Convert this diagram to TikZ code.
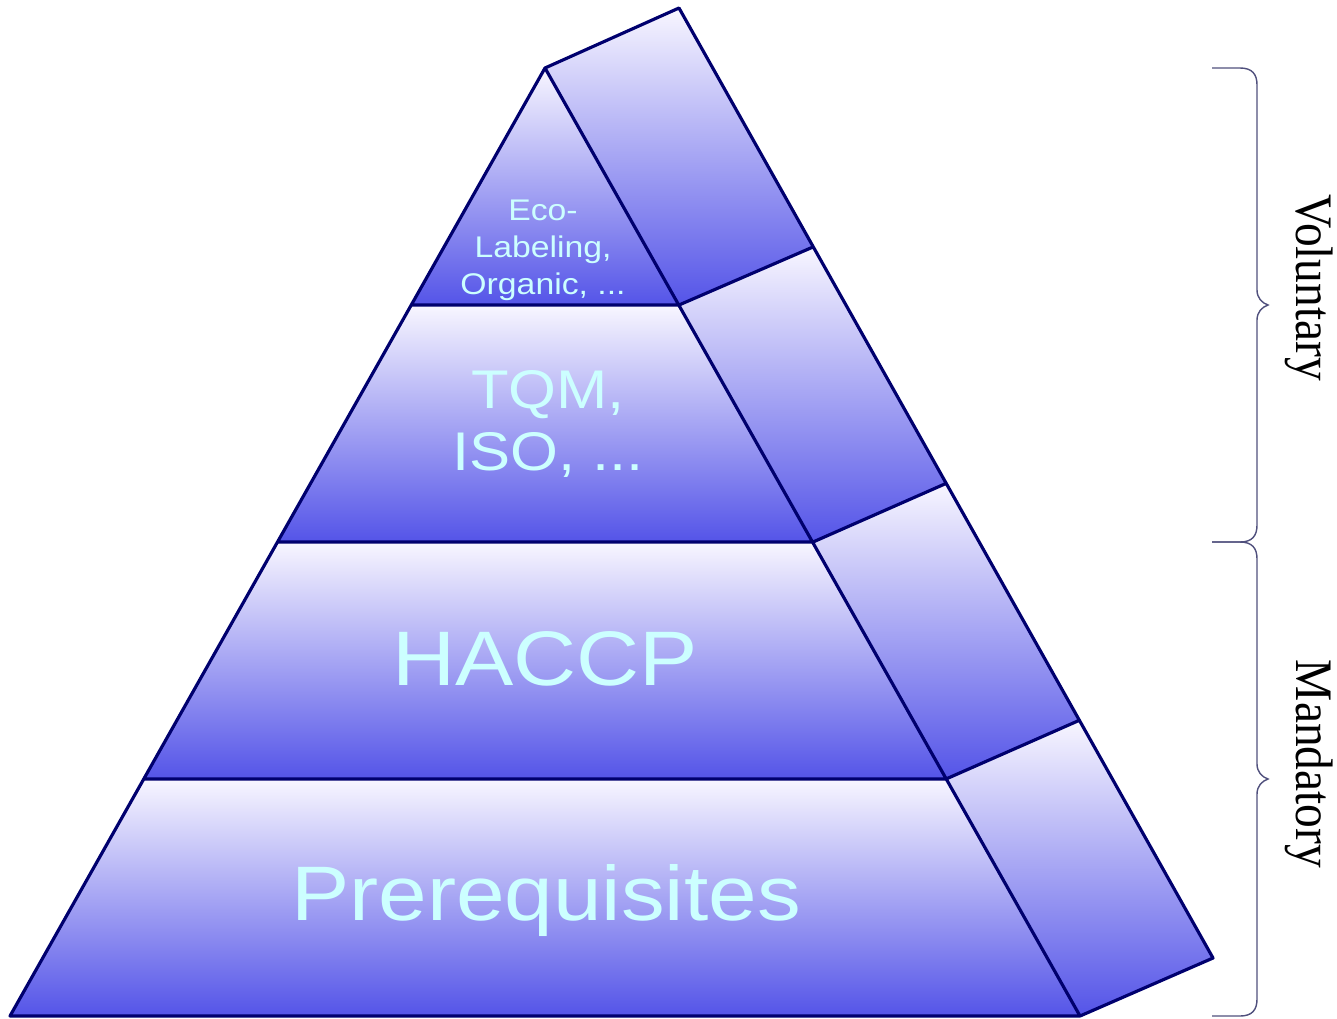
\documentclass[tikz,border=0pt]{standalone}
\usepackage{fontspec}
\setmainfont{Liberation Serif}
\newfontfamily\arialfont{Liberation Sans}
\definecolor{tiertop}{RGB}{248,246,255}
\definecolor{tierbottom}{RGB}{84,84,232}
\definecolor{edgeblue}{RGB}{0,0,110}
\definecolor{labelcyan}{RGB}{204,255,255}
\definecolor{bracegray}{RGB}{80,80,125}
\tikzset{
  tier/.style={top color=tiertop, bottom color=tierbottom},
  edge/.style={draw=edgeblue, line width=1.8pt, line join=round},
  tiertext/.style={text=labelcyan, align=center, inner sep=0pt, xscale=1.13},
  sidetext/.style={font=\fontsize{30}{30}\selectfont, inner sep=0pt, rotate=-90, xscale=0.9},
  curly/.style={draw=bracegray, line width=0.8pt}
}

\begin{document}
\begin{tikzpicture}[x=0.02cm, y=-0.02cm]
        \useasboundingbox (0,0) rectangle (1337,1018);

        % front face
        \coordinate (A) at (545,68);
        \coordinate (L1) at (411,305);
        \coordinate (R1) at (679,305);
        \coordinate (L2) at (278,542);
        \coordinate (R2) at (813,542);
        \coordinate (L3) at (144,779);
        \coordinate (R3) at (946,779);
        \coordinate (L4) at (10,1016);
        \coordinate (R4) at (1080,1016);
        % back edge
        \coordinate (B0) at (679,8);
        \coordinate (B1) at (813,247);
        \coordinate (B2) at (947,483);
        \coordinate (B3) at (1080,720);
        \coordinate (B4) at (1213,958);

        \shade[tier] (A) -- (R1) -- (L1) -- cycle;
        \shade[tier] (L1) -- (R1) -- (R2) -- (L2) -- cycle;
        \shade[tier] (L2) -- (R2) -- (R3) -- (L3) -- cycle;
        \shade[tier] (L3) -- (R3) -- (R4) -- (L4) -- cycle;

        \shade[tier] (A) -- (B0) -- (B1) -- (R1) -- cycle;
        \shade[tier] (R1) -- (B1) -- (B2) -- (R2) -- cycle;
        \shade[tier] (R2) -- (B2) -- (B3) -- (R3) -- cycle;
        \shade[tier] (R3) -- (B3) -- (B4) -- (R4) -- cycle;

        \draw[edge] (A) -- (L4) -- (R4) -- cycle
            (L1) -- (R1)
            (L2) -- (R2)
            (L3) -- (R3);
        \draw[edge] (A) -- (B0) -- (B4) -- (R4)
            (R1) -- (B1)
            (R2) -- (B2)
            (R3) -- (B3);

        \node[tiertext, font=\arialfont\fontsize{17}{21}\selectfont] (eco) at (543,250) {Eco-\\Labeling,\\Organic, ...};
        \node[tiertext, font=\arialfont\fontsize{31}{35}\selectfont] (tqm) at (548,424) {TQM,\\ISO, ...};
        \node[tiertext, font=\arialfont\fontsize{44}{44}\selectfont, anchor=base] (haccp) at (545,685) {HACCP};
        \node[tiertext, font=\arialfont\fontsize{44}{44}\selectfont, anchor=base] (prereq) at (546,920) {Prerequisites};

        % braces
        \draw[curly] (1212,68) -- (1240,68) .. controls (1252,68) and (1257,74) .. (1257,85)
            -- (1257,290) .. controls (1257,298) and (1262,303) .. (1268,305)
            .. controls (1262,307) and (1257,312) .. (1257,320)
            -- (1257,525) .. controls (1257,536) and (1252,542) .. (1240,542) -- (1212,542);
        \draw[curly] (1212,542) -- (1240,542) .. controls (1252,542) and (1257,548) .. (1257,559)
            -- (1257,764) .. controls (1257,772) and (1262,777) .. (1268,779)
            .. controls (1262,781) and (1257,786) .. (1257,794)
            -- (1257,999) .. controls (1257,1010) and (1252,1016) .. (1240,1016) -- (1212,1016);

        \node[sidetext] (voluntary) at (1309,288) {Voluntary};
        \node[sidetext] (mandatory) at (1309,764) {Mandatory};
    \end{tikzpicture}
\end{document}
